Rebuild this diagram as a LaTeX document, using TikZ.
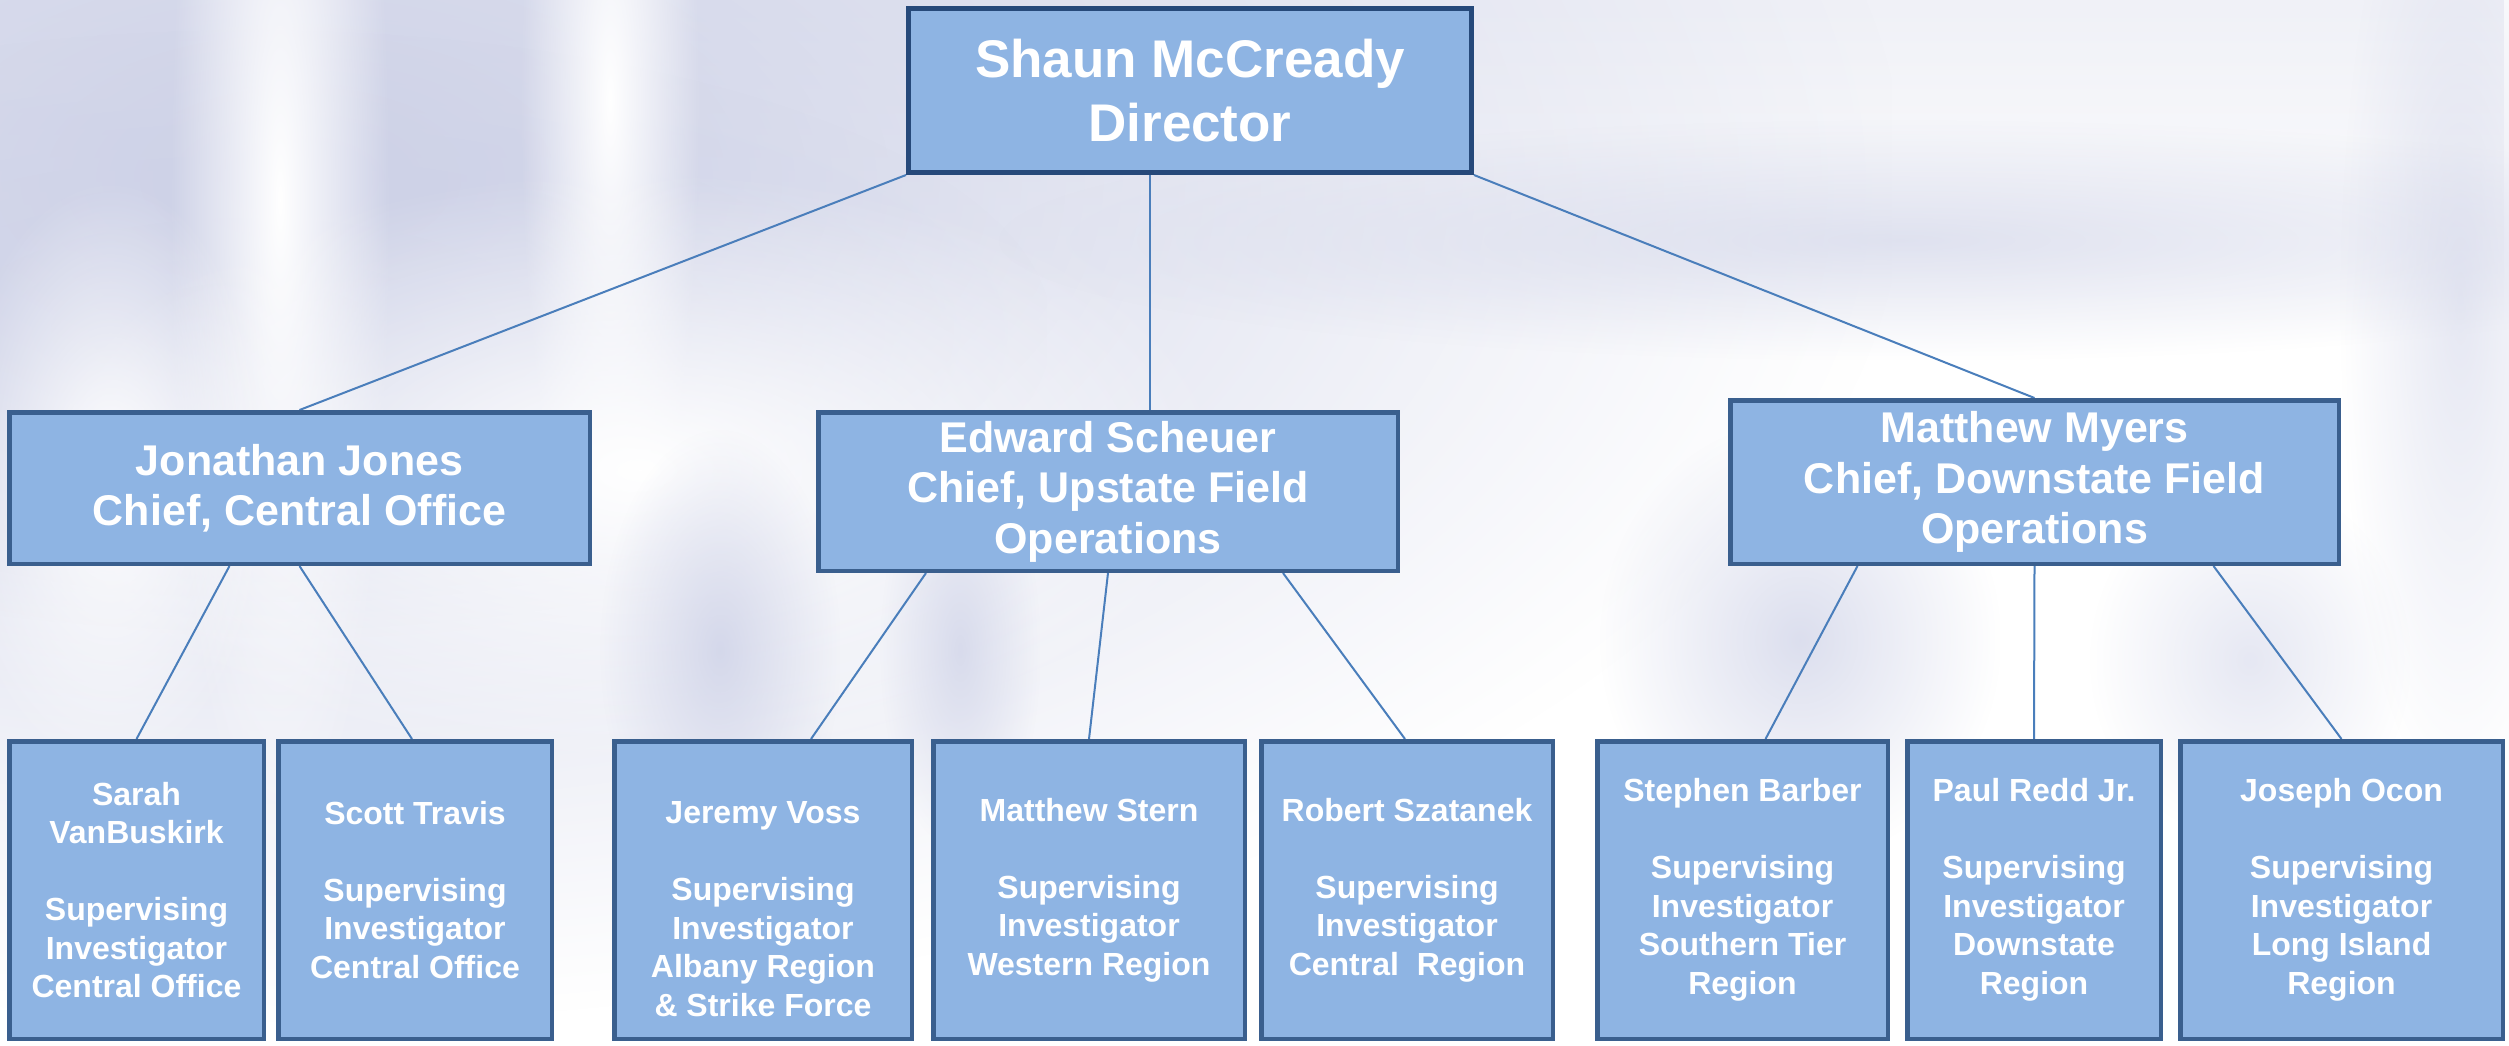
\documentclass[tikz,border=0pt]{standalone}
\usepackage{fontspec}
\setmainfont{Liberation Sans}
\usetikzlibrary{fadings}
\pgfdeclarelayer{bg}
\pgfdeclarelayer{lines}
\pgfsetlayers{bg,lines,main}
\definecolor{boxfill}{HTML}{8EB4E3}
\definecolor{boxline}{HTML}{3A5F8E}
\definecolor{topline}{HTML}{26497A}
\definecolor{connline}{HTML}{4A7EBB}
\definecolor{haze}{HTML}{CDD1E7}
\definecolor{hazelight}{HTML}{E6E8F2}
\tikzfading[name=softblob, inner color=transparent!0, outer color=transparent!100]
\tikzfading[name=fadedown, top color=transparent!0, bottom color=transparent!100]
\tikzset{
  box/.style={draw=boxline, line width=4.5pt, fill=boxfill, text=white, inner sep=0pt, align=center},
  topbox/.style={box, draw=topline, line width=5pt, font=\fontsize{53}{63.5}\selectfont\bfseries},
  midbox/.style={box, font=\fontsize{43}{50.5}\selectfont\bfseries},
  lowbox/.style={box, minimum height=297.5pt, font=\fontsize{32}{38.5}\selectfont\bfseries},
  conn/.style={draw=connline, line width=2pt},
  hazeblob/.style={fill=haze, path fading=softblob},
  whiteblob/.style={fill=white, path fading=softblob},
}
\begin{document}
\begin{tikzpicture}[x=1pt,y=-1pt]
\useasboundingbox (0,0) rectangle (2509,1045);
\begin{pgfonlayer}{bg}
  \fill[white] (0,0) rectangle (2509,1045);
  % soft blurred photo backdrop
  \fill[hazelight, path fading=fadedown, opacity=0.6] (0,0) rectangle (2509,320);
  \fill[hazeblob] (-1300,-660) rectangle (1900,1020);
  \fill[hazeblob, opacity=0.8] (-550,30) rectangle (1050,630);
  \fill[whiteblob] (170,-500) rectangle (390,900);
  \fill[whiteblob] (520,-400) rectangle (700,600);
  \fill[whiteblob] (40,170) rectangle (1240,770);
  \fill[whiteblob] (-50,180) rectangle (270,780);
  \fill[hazeblob, opacity=0.8] (600,430) rectangle (840,870);
  \fill[hazeblob, opacity=0.7] (880,450) rectangle (1040,850);
  \fill[hazeblob, opacity=0.7] (1600,420) rectangle (2000,860);
  \fill[hazeblob, opacity=0.5] (2090,480) rectangle (2410,840);
  \fill[hazeblob, opacity=0.6] (1000,120) rectangle (2800,360);
  \fill[hazeblob, opacity=0.5] (2340,-200) rectangle (2580,800);
\end{pgfonlayer}

% Director
\node[topbox, minimum width=563pt, minimum height=164pt] (dir) at (1190,90.5)
  {Shaun McCready\\Director};

% Chiefs
\node[midbox, minimum width=580.5pt, minimum height=151.5pt] (jj) at (299.5,488)
  {Jonathan Jones\\Chief, Central Office};
\node[midbox, minimum width=579.5pt, minimum height=158.5pt] (es) at (1108,491.5)
  {Edward Scheuer\\Chief, Upstate Field\\Operations};
\node[midbox, minimum width=608.5pt, minimum height=163.5pt] (mm) at (2034.5,482)
  {Matthew Myers\\Chief, Downstate Field\\Operations};

% Supervising investigators
\node[lowbox, minimum width=254.5pt] (sarah) at (136.5,890)
  {Sarah\\VanBuskirk\\[38.5pt]Supervising\\Investigator\\Central Office};
\node[lowbox, minimum width=273.5pt] (scott) at (415,890)
  {Scott Travis\\[38.5pt]Supervising\\Investigator\\Central Office};
\node[lowbox, minimum width=297.5pt] (jeremy) at (763,890)
  {\phantom{J}\\Jeremy Voss\\[38.5pt]Supervising\\Investigator\\Albany Region\\\& Strike Force};
\node[lowbox, minimum width=311.5pt] (stern) at (1089,890)
  {Matthew Stern\\[38.5pt]Supervising\\Investigator\\Western Region};
\node[lowbox, minimum width=291.5pt] (robert) at (1407,890)
  {Robert Szatanek\\[38.5pt]Supervising\\Investigator\\Central~~Region};
\node[lowbox, minimum width=290.5pt] (stephen) at (1742.5,890)
  {Stephen Barber\\[38.5pt]Supervising\\Investigator\\Southern Tier\\Region};
\node[lowbox, minimum width=253.5pt] (paul) at (2034,890)
  {Paul Redd Jr.\\[38.5pt]Supervising\\Investigator\\Downstate\\Region};
\node[lowbox, minimum width=322.5pt] (joseph) at (2341.5,890)
  {Joseph Ocon\\[38.5pt]Supervising\\Investigator\\Long Island\\Region};

\begin{pgfonlayer}{lines}
  \draw[conn] (dir.south west) -- (jj.north);
  \draw[conn] ([xshift=-40pt]dir.south) -- ([xshift=42pt]es.north);
  \draw[conn] (dir.south east) -- (mm.north);

  \draw[conn] ([xshift=-70pt]jj.south) -- (sarah.north);
  \draw[conn] (jj.south) -- ([xshift=-3pt]scott.north);

  \draw[conn] ([xshift=-182pt]es.south) -- ([xshift=48pt]jeremy.north);
  \draw[conn] (es.south) -- (stern.north);
  \draw[conn] ([xshift=175pt]es.south) -- ([xshift=-2pt]robert.north);

  \draw[conn] ([xshift=-177pt]mm.south) -- ([xshift=23pt]stephen.north);
  \draw[conn] (mm.south) -- (paul.north);
  \draw[conn] ([xshift=179pt]mm.south) -- (joseph.north);
\end{pgfonlayer}
\end{tikzpicture}
\end{document}
